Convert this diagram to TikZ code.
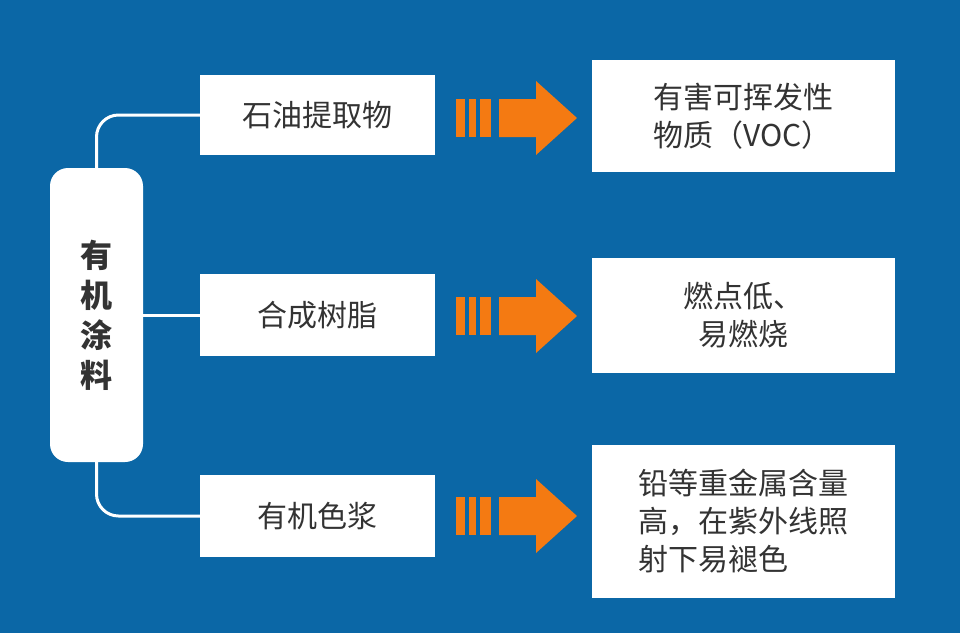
\documentclass[tikz,border=0pt]{standalone}
\usepackage{fontspec}
\setmainfont{Noto Sans CJK SC}
\begin{document}
\begin{tikzpicture}[x=1pt,y=-1pt,
  wbox/.style={draw=none,fill=white,inner sep=0pt,font=\fontsize{30}{38}\selectfont,text=black!80,align=left},
  conn/.style={draw=white,line width=3pt,rounded corners=22pt},
  stripe/.style={fill=orange1,draw=none}]
\definecolor{bg}{HTML}{0B67A6}
\definecolor{orange1}{HTML}{F47A12}
\fill[bg] (0,0) rectangle (960,633);
\useasboundingbox (0,0) rectangle (960,633);
\node[wbox,rounded corners=18pt,minimum width=93pt,minimum height=294pt,font=\fontsize{32}{40}\selectfont\bfseries,align=center] (root) at (96.5,315) {有\\机\\涂\\料};
\node[wbox,minimum width=235pt,minimum height=80pt] (a) at (317.5,115) {石油提取物};
\node[wbox,minimum width=235pt,minimum height=82pt] (b) at (317.5,315) {合成树脂};
\node[wbox,minimum width=235pt,minimum height=82pt] (c) at (317.5,516) {有机色浆};
\node[wbox,minimum width=303pt,minimum height=112pt] (ra) at (743.5,116) {有害可挥发性\\物质（VOC）};
\node[wbox,minimum width=303pt,minimum height=115pt,align=center] (rb) at (743.5,315.5) {燃点低、\\易燃烧};
\node[wbox,minimum width=303pt,minimum height=153pt] (rc) at (743.5,521.5) {铅等重金属含量\\高，在紫外线照\\射下易褪色};
\draw[conn] (root.north) |- (a.west);
\draw[conn] (root.east |- b.west) -- (b.west);
\draw[conn] (root.south) |- (c.west);
\foreach \y/\n in {118/1,316/2,516/3}{
  \fill[stripe] (456,\y-19) rectangle (465,\y+19);
  \fill[stripe] (469,\y-19) rectangle (476,\y+19);
  \fill[stripe] (480,\y-19) rectangle (491,\y+19);
  \fill[stripe] (499,\y-19) -- (536,\y-19) -- (536,\y-37) -- (577,\y) -- (536,\y+37) -- (536,\y+19) -- (499,\y+19) -- cycle;
}
\end{tikzpicture}
\end{document}
